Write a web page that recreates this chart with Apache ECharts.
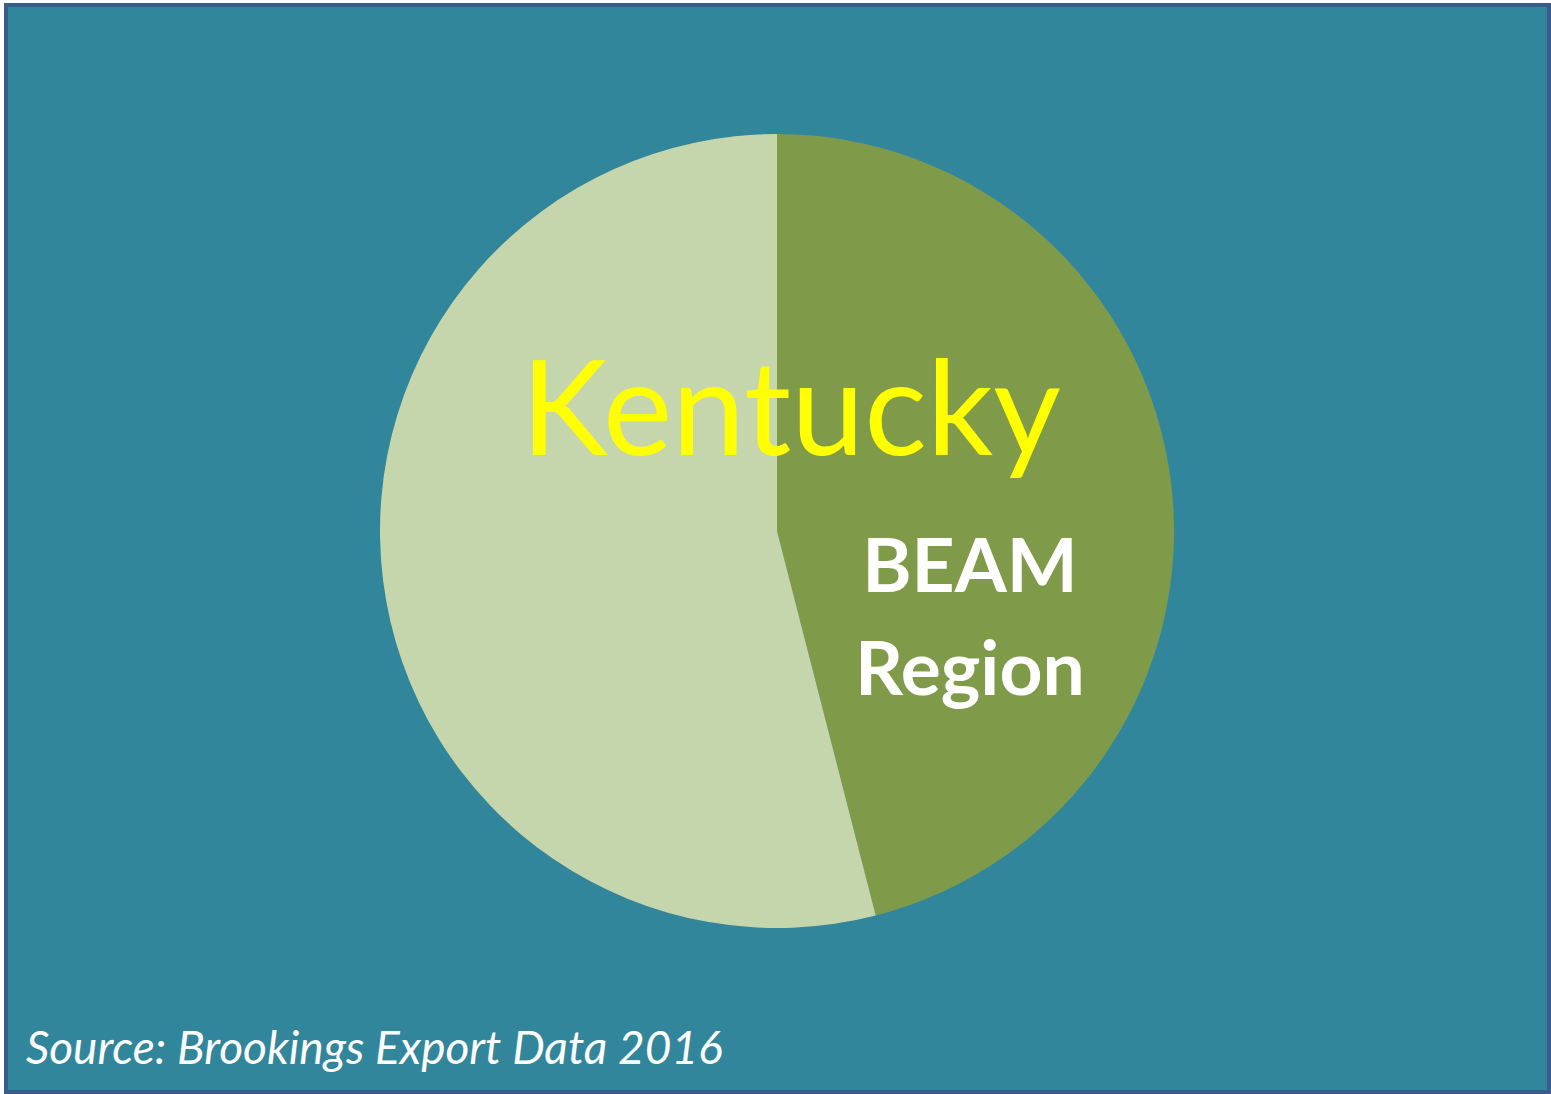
<!DOCTYPE html>
<html>
<head>
<meta charset="utf-8">
<script src="https://cdn.jsdelivr.net/npm/echarts@6/dist/echarts.min.js"></script>
<style>
html,body{margin:0;padding:0;background:#ffffff;}
#chart{width:1551px;height:1094px;}
</style>
</head>
<body>
<div id="chart"></div>
<script>
// Data
const categories = ['BEAM Region', 'Kentucky'];
const values = [46, 54];
const sliceColors = ['#7F9B4A', '#C5D6AD'];
const titleText = 'Kentucky';
const sourceText = 'Source: Brookings Export Data 2016';

const chart = echarts.init(document.getElementById('chart'), null, {renderer: 'svg'});
const data = categories.map((c, i) => ({
  name: c,
  value: values[i],
  itemStyle: {color: sliceColors[i]},
  label: i === 0 ? {
    show: true,
    position: 'inside',
    formatter: 'BEAM\nRegion',
    align: 'left',
    verticalAlign: 'middle',
    offset: [-7, 109],
    color: '#ffffff',
    fontFamily: 'Lato',
    fontWeight: 'bold',
    fontSize: 75,
    lineHeight: 103
  } : {show: false}
}));

chart.setOption({
  backgroundColor: 'transparent',
  animation: false,
  graphic: [{
    type: 'rect',
    z: -10,
    silent: true,
    shape: {x: 6, y: 5, width: 1543, height: 1087},
    style: {fill: '#32869C', stroke: '#3A5C8C', lineWidth: 4}
  }],
  title: [{
    text: titleText,
    left: 786,
    top: 334,
    textAlign: 'center',
    textStyle: {color: '#FFFF00', fontFamily: 'Lato', fontWeight: 'normal', fontSize: 131}
  }, {
    text: sourceText,
    left: 21,
    top: 1018,
    textStyle: {color: '#ffffff', fontFamily: 'Lato', fontStyle: 'italic', fontWeight: 'normal', fontSize: 46}
  }],
  series: [{
    type: 'pie',
    center: [777, 531],
    radius: 397,
    startAngle: 90,
    clockwise: true,
    avoidLabelOverlap: false,
    labelLine: {show: false},
    emphasis: {disabled: true},
    itemStyle: {borderWidth: 0},
    data: data
  }]
});
</script>
</body>
</html>
